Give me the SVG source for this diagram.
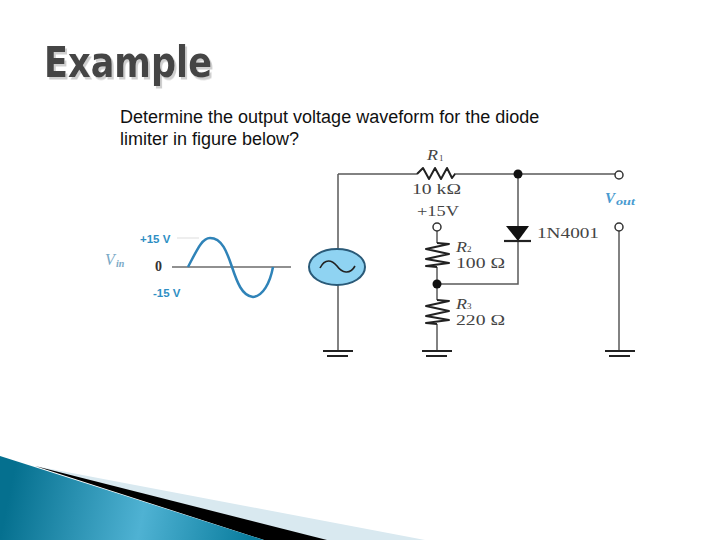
<svg xmlns="http://www.w3.org/2000/svg" width="720" height="540" viewBox="0 0 720 540">
<style>
.w{fill:none;stroke:#5a5a5a;stroke-width:1.5}
.z{fill:none;stroke:#222;stroke-width:2;stroke-linejoin:round}
.g{fill:none;stroke:#222;stroke-width:2.2}
.c{fill:#fff;stroke:#333;stroke-width:1.5}
.d{fill:#111}
.s{font-family:"Liberation Serif",serif;font-size:15px;fill:#444}
.i{font-family:"Liberation Serif",serif;font-size:15px;font-style:italic;fill:#444}
.sub{font-family:"Liberation Serif",serif;font-size:9px;fill:#444}
.b{font-family:"Liberation Sans",sans-serif;font-size:11.5px;font-weight:bold;fill:#2f8fc4}
.q{font-family:"Liberation Sans",sans-serif;font-size:18px;fill:#111}
</style>
<defs>
<linearGradient id="sw" gradientUnits="userSpaceOnUse" x1="10" y1="490" x2="250" y2="540">
<stop offset="0" stop-color="#05708f"/><stop offset="0.55" stop-color="#4fb2d3"/><stop offset="1" stop-color="#0a7d9e"/>
</linearGradient>
<filter id="sh" x="-5%" y="-10%" width="115%" height="130%">
<feDropShadow dx="2" dy="2.5" stdDeviation="0.6" flood-color="#cfcfcf"/>
</filter>
</defs>
<g id="band">
<polygon points="35,466 425,540 300,540" fill="#d9e9f0"/>
<polygon points="35,466 327,540 264,540" fill="#000"/>
<polygon points="0,456 264,540 0,540" fill="url(#sw)"/>
</g>
<text id="title" x="44" y="77" font-family="'DejaVu Sans',sans-serif" font-size="42" font-weight="bold" fill="#444" filter="url(#sh)" textLength="168" lengthAdjust="spacingAndGlyphs">Example</text>
<text class="q" x="120" y="123">Determine the output voltage waveform for the diode</text>
<text class="q" x="120" y="145">limiter in figure below?</text>
<g id="connectors">
<path class="w" d="M338 174H417M454 174H616M518 174V226M518 241V284H437M338 174V250M338 285V351M437 231V243M437 267V300M437 324V351M619 231V351"/>
</g>
<g id="waveform">
<path d="M172 267H291" fill="none" stroke="#222" stroke-width="1.2"/>
<path d="M188 267C197 250 202 238 210 238C222 238 227 252 232 267C237 282 242 296 253 297C263 296 270 283 273 267" fill="none" stroke="#2f83b8" stroke-width="2.5"/>
<path d="M177 238H199" stroke="#ddd" stroke-width="1" fill="none"/>
<text class="b" x="140" y="243">+15 V</text>
<text class="b" x="153" y="297">-15 V</text>
<text x="155" y="271" font-family="'Liberation Serif',serif" font-size="14" font-weight="bold" fill="#333">0</text>
<text x="105" y="265" font-family="'Liberation Serif',serif" font-size="16" font-style="italic" fill="#7aa9c6">V</text>
<text x="116" y="267" font-family="'Liberation Serif',serif" font-size="10" font-weight="bold" font-style="italic" fill="#7aa9c6">in</text>
</g>
<g id="source">
<ellipse cx="337" cy="267" rx="28" ry="18" fill="#8fd3f2" stroke="#2a5a78" stroke-width="2"/>
<path d="M320 268C325 258 332 260 337 266C342 273 350 275 355 266" fill="none" stroke="#222" stroke-width="1.6"/>
</g>
<g id="r1">
<path class="z" d="M417 174L423 168L429 179L435 168L441 179L447 168L452 178L455 174"/>
<text class="i" x="427" y="160" textLength="11" lengthAdjust="spacingAndGlyphs">R</text><text class="sub" x="439" y="161">1</text>
<text class="s" x="412" y="194" textLength="49" lengthAdjust="spacingAndGlyphs">10 kΩ</text>
</g>
<g id="r2">
<path class="z" d="M437 243L449 244L426 249L449 254L426 259L449 263L426 266L437 267"/>
<text class="i" x="456" y="252" textLength="11" lengthAdjust="spacingAndGlyphs">R</text><text class="sub" x="467" y="252">2</text>
<text class="s" x="456" y="268" textLength="49" lengthAdjust="spacingAndGlyphs">100 Ω</text>
</g>
<g id="r3">
<path class="z" d="M437 300L449 301L426 306L449 311L426 316L449 320L426 323L437 324"/>
<text class="i" x="456" y="309" textLength="11" lengthAdjust="spacingAndGlyphs">R</text><text class="sub" x="467" y="309">3</text>
<text class="s" x="456" y="325" textLength="49" lengthAdjust="spacingAndGlyphs">220 Ω</text>
</g>
<g id="supply">
<circle class="c" cx="437" cy="227" r="4"/>
<text class="s" x="417" y="216" textLength="42" lengthAdjust="spacingAndGlyphs">+15V</text>
</g>
<g id="diode">
<polygon class="d" points="506,226 529,226 518,241"/>
<path class="g" d="M504 241H531"/>
<text class="s" x="537" y="238" textLength="62" lengthAdjust="spacingAndGlyphs">1N4001</text>
</g>
<g id="nodes">
<circle class="d" cx="518" cy="174" r="4.5"/>
<circle class="d" cx="437" cy="284" r="4.5"/>
<circle class="c" cx="619" cy="175" r="4"/>
<circle class="c" cx="619" cy="227" r="4"/>
</g>
<g id="vout">
<text x="605" y="203" font-family="'Liberation Serif',serif" font-size="15" font-weight="bold" font-style="italic" fill="#4a9bd0">V</text>
<text x="616" y="205" font-family="'Liberation Serif',serif" font-size="10" font-weight="bold" font-style="italic" fill="#4a9bd0" textLength="19" lengthAdjust="spacingAndGlyphs">out</text>
</g>
<g id="grounds">
<path class="g" d="M323 351H353M327 356H348M422 351H452M426 356H447M605 351H635M609 356H630"/>
</g>
</svg>
